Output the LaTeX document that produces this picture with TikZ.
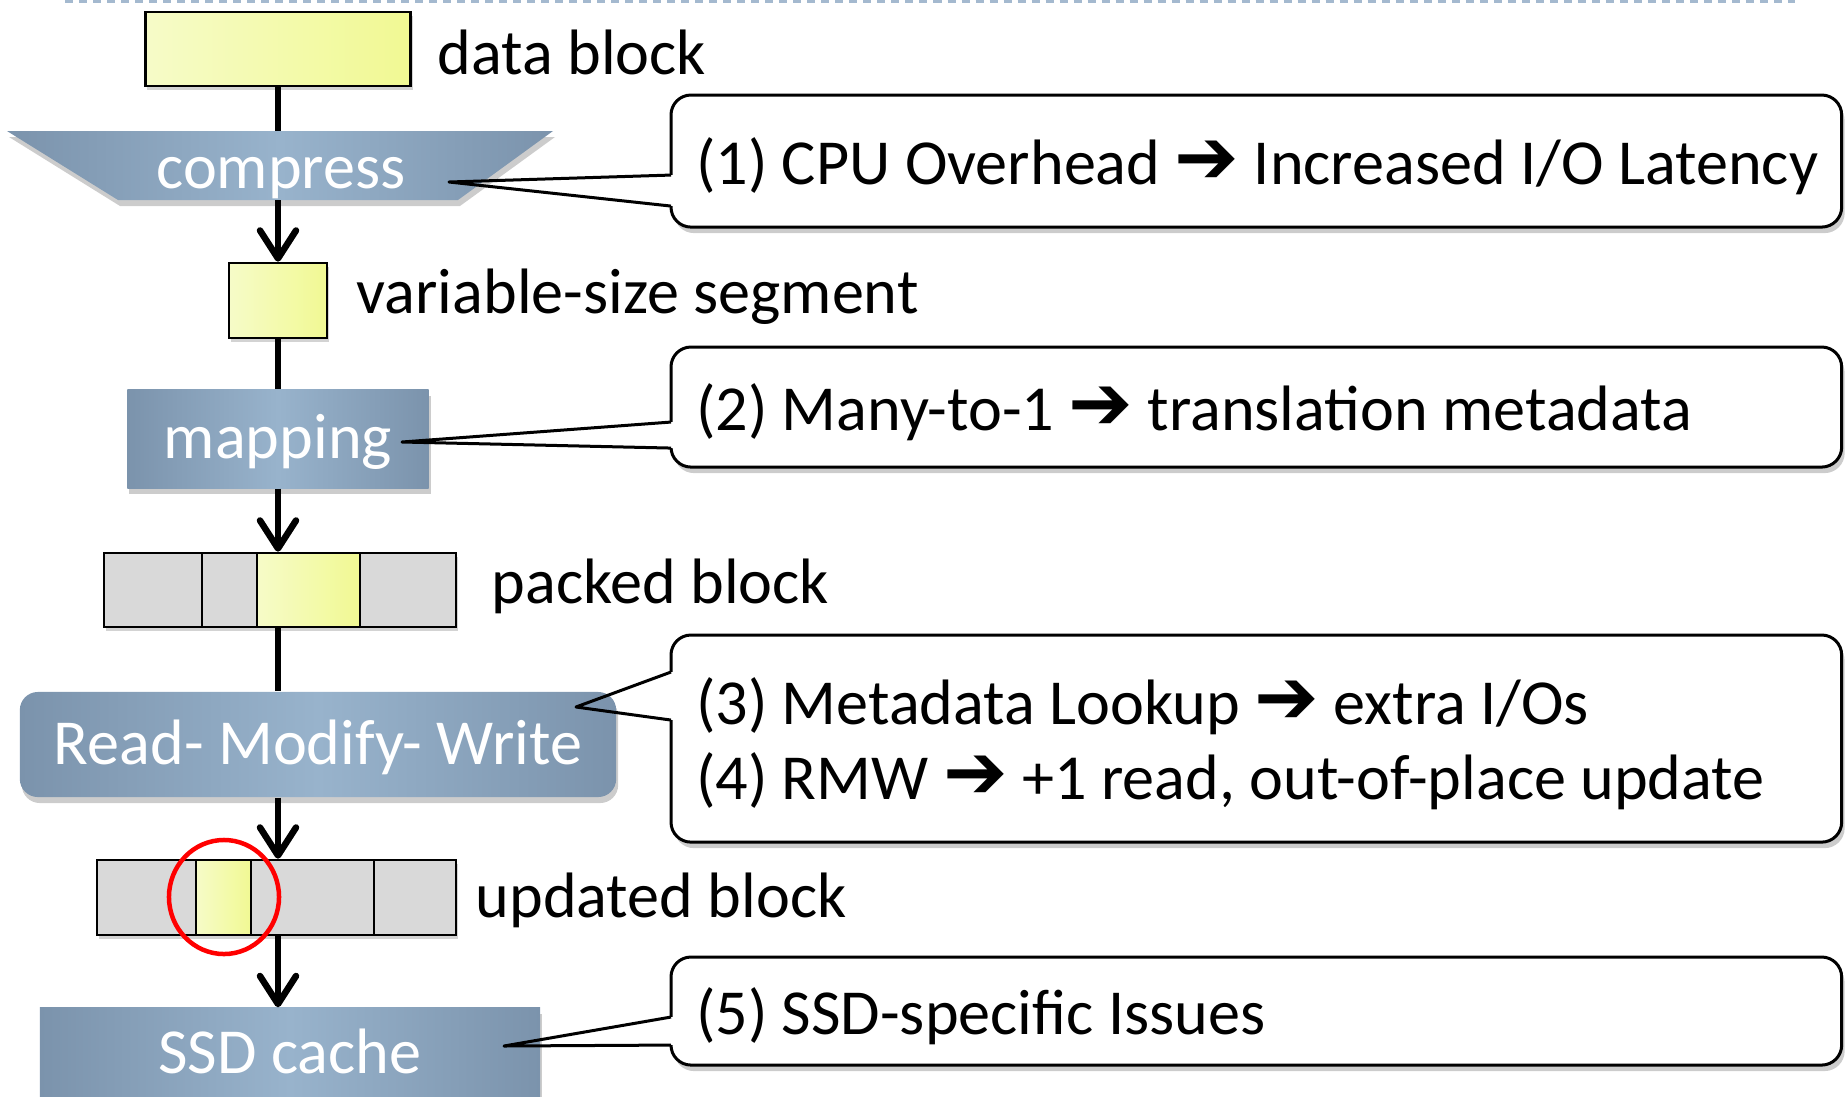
\documentclass[tikz,border=0pt]{standalone}
\usepackage{fontspec}
\setmainfont{Carlito}
\newfontfamily\arrowfont{DejaVu Sans}
\usetikzlibrary{arrows.meta,shadows}
\definecolor{procDark}{HTML}{7B93AC}
\definecolor{procLight}{HTML}{98B3CC}
\definecolor{segYellow}{HTML}{F1F993}
\definecolor{segLight}{HTML}{F6FBC8}
\definecolor{cellGray}{HTML}{D9D9D9}
\definecolor{ruleBlue}{HTML}{A4B9CF}
\newcommand{\thenarrow}{\raisebox{0.02em}{\scalebox{1.2}{\arrowfont\symbol{"2794}}}}
\begin{document}
\begin{tikzpicture}[x=0.01cm,y=-0.01cm,
  font=\fontsize{18.25}{21.3}\selectfont,
  proc/.style={left color=procDark,right color=procDark,middle color=procLight,text=white,
    inner sep=0pt,drop shadow={shadow xshift=0.02cm,shadow yshift=-0.06cm,opacity=0.4}},
  seg/.style={draw,line width=0.025cm,left color=segLight,right color=segYellow,inner sep=0pt,
    drop shadow={shadow xshift=0.02cm,shadow yshift=-0.04cm,opacity=0.35}},
  cell/.style={draw,line width=0.025cm,fill=cellGray,inner sep=0pt,
    drop shadow={shadow xshift=0.02cm,shadow yshift=-0.04cm,opacity=0.35}},
  link/.style={line width=0.065cm},
  linkto/.style={link,-{Straight Barb[length=0.28cm,width=0.36cm,round]}},
  issue/.style={draw,line width=0.03cm,rounded corners=0.2cm,fill=white,anchor=north west,
    align=flush left,text width=11.2cm,inner xsep=0.25cm,outer sep=0pt,
    execute at begin node={\rule{0pt}{0.58cm}},
    drop shadow={shadow xshift=0.03cm,shadow yshift=-0.06cm,opacity=0.4}},
  tag/.style={anchor=base west,inner sep=0pt}]
\useasboundingbox (0,0) rectangle (1847,1096);
\clip (0,0) rectangle (1847,1096);
\draw[ruleBlue,line width=0.03cm,dash pattern=on 0.08cm off 0.06cm] (65,1.5)--(1795,1.5);

\node[seg,minimum width=2.65cm,minimum height=0.74cm] (data) at (278,49) {};
\node[tag] (dataLbl) at (437,74) {data block};
\path[proc] (7,131)--(553,131)--(458,200)--(118,200)--cycle;
\node[text=white,anchor=base] (comp) at (281,188) {compress};
\coordinate (compTop) at (278,131);
\coordinate (compBot) at (278,200);
\node[seg,minimum width=0.98cm,minimum height=0.75cm] (seg) at (278,300.5) {};
\node[tag] (segLbl) at (356,313) {variable-size segment};
\node[proc,minimum width=3.01cm,minimum height=0.98cm,text height=0.46cm,text depth=0.08cm] (map) at (278,439) {mapping};
\node[cell,minimum width=3.52cm,minimum height=0.74cm] (packed) at (280,590) {};
\draw[line width=0.025cm,left color=segLight,right color=segYellow] (257,553) rectangle (360,627);
\draw[line width=0.025cm] (202,553)--(202,627);
\node[tag] (packedLbl) at (491,603) {packed block};
\node[proc,rounded corners=0.18cm,minimum width=5.96cm,minimum height=1.05cm,text height=0.46cm,text depth=0.06cm] (rmw) at (318,744.5) {Read- Modify- Write};
\node[cell,minimum width=3.59cm,minimum height=0.75cm] (upd) at (276.5,897.5) {};
\draw[line width=0.025cm,left color=segLight,right color=segYellow] (196,860) rectangle (251,935);
\draw[line width=0.025cm] (374,860)--(374,935);
\node[tag] (updLbl) at (475,917) {updated block};
\draw[red,line width=0.045cm] (224,897) ellipse [x radius=0.55cm,y radius=0.57cm];
\node[proc,minimum width=5cm,minimum height=1.2cm,text height=0.44cm,text depth=0.34cm] (ssd) at (290,1068) {SSD cache};

\draw[link] (data) -- (compTop);
\draw[linkto] (compBot) -- (seg);
\draw[link] (seg) -- (map);
\draw[linkto] (map) -- (map.south |- packed.north);
\draw[link] (packed.south -| data.south) -- (rmw.north -| data.south);
\draw[linkto] (rmw.south -| data.south) -- (upd.north -| data.south);
\draw[linkto] (upd.south -| data.south) -- (ssd.north -| data.south);

\node[issue,minimum height=1.32cm] (c1) at (671,95) {\mbox{(1) CPU Overhead \thenarrow{} Increased I/O Latency}};
\node[issue,minimum height=1.2cm] (c2) at (671,347) {(2) Many-to-1 \thenarrow{} translation metadata};
\node[issue,minimum height=2.07cm] (c3) at (671,635) {(3) Metadata Lookup \thenarrow{} extra I/Os\\(4) RMW \thenarrow{} +1 read, out-of-place update};
\node[issue,minimum height=1.08cm] (c5) at (671,957) {(5) SSD-specific Issues};
\coordinate (tip1) at (449,182);
\coordinate (tip2) at (402,442);
\coordinate (tip3) at (576,707);
\coordinate (tip5) at (504,1046);
\foreach \c/\t/\u/\l in {c1/tip1/-0.14/-0.45,c2/tip2/-0.15/-0.41,c3/tip3/0.665/0.185,c5/tip5/-0.06/-0.34}{
  \fill[white] ([yshift=\u cm,xshift=-0.02cm]\c.west) rectangle ([yshift=\l cm,xshift=0.03cm]\c.west);
  \draw[line width=0.03cm,line join=round] ([yshift=\u cm]\c.west) -- (\t) -- ([yshift=\l cm]\c.west);
}
\end{tikzpicture}
\end{document}
